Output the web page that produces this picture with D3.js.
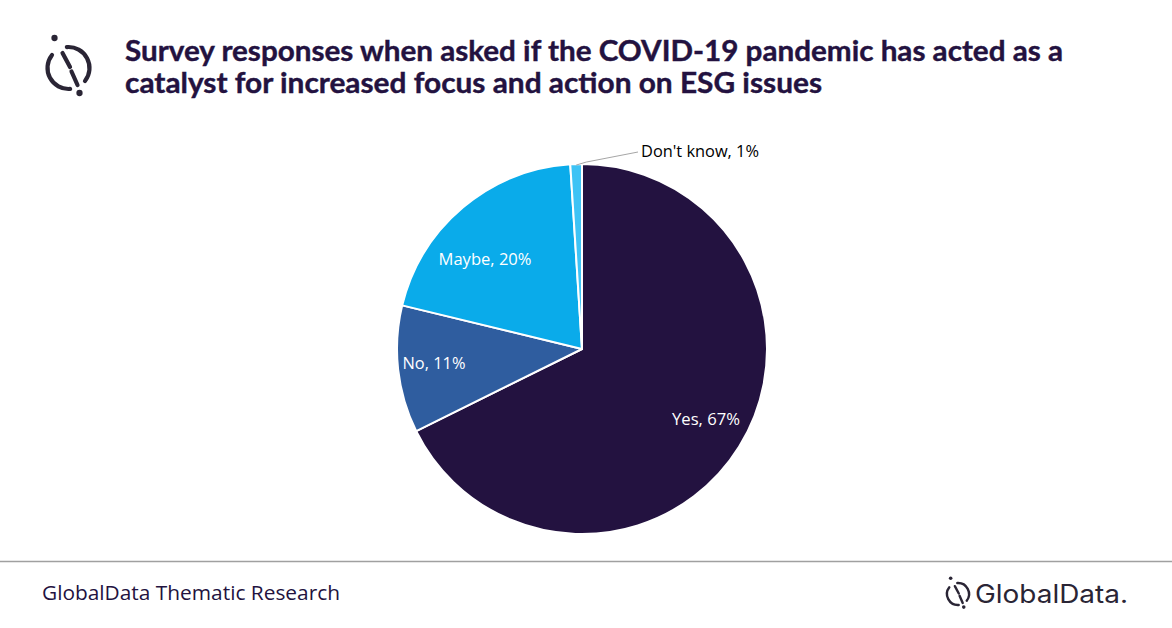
<!DOCTYPE html>
<html><head><meta charset="utf-8">
<script src="https://cdn.jsdelivr.net/npm/d3@7"></script>
<style>body{margin:0;background:#fff}svg{display:block}</style>
</head><body>
<svg id="c" width="1172" height="628"></svg>
<script>
const categories = ["Yes", "No", "Maybe", "Don't know"];
const values = [67, 11, 20, 1];
const colors = ["#231240", "#2f5d9f", "#0aabea", "#3ec3f5"];
const titleLines = ["Survey responses when asked if the COVID-19 pandemic has acted as a",
                    "catalyst for increased focus and action on ESG issues"];
const source = "GlobalData Thematic Research";

const svg = d3.select("#c");
const W = 1172, H = 628;
const dark = "#231240";

// icon drawer
function icon(g, cx, cy, r, sw, col) {
  const arc = d3.arc().innerRadius(r - sw/2).outerRadius(r + sw/2).cornerRadius(sw/2);
  const deg = Math.PI/180;
  g.append("path").attr("transform",`translate(${cx},${cy})`)
    .attr("d", arc({startAngle: -10*deg, endAngle: 134*deg})).attr("fill", col);
  g.append("path").attr("transform",`translate(${cx},${cy})`)
    .attr("d", arc({startAngle: 170*deg, endAngle: 314*deg})).attr("fill", col);
  const s = r/21;
  g.append("line").attr("x1", cx-6*s).attr("y1", cy-15*s).attr("x2", cx+1.5*s).attr("y2", cy-1*s)
    .attr("stroke", col).attr("stroke-width", sw).attr("stroke-linecap","round");
  g.append("line").attr("x1", cx+3*s).attr("y1", cy+3.5*s).attr("x2", cx+9*s).attr("y2", cy+17*s)
    .attr("stroke", col).attr("stroke-width", sw).attr("stroke-linecap","round");
  g.append("circle").attr("cx", cx-14*s).attr("cy", cy-30*s).attr("r", sw*0.75).attr("fill", col);
  g.append("circle").attr("cx", cx+11*s).attr("cy", cy+25*s).attr("r", sw*0.75).attr("fill", col);
}
icon(svg.append("g"), 68.5, 68, 21, 4.2, "#2a2535");

// title
const tl = [938, 697];
svg.append("g").selectAll("text").data(titleLines).join("text")
  .attr("x", 125).attr("y", (d,i) => 61 + i*32)
  .attr("textLength", (d,i) => tl[i]).attr("lengthAdjust","spacingAndGlyphs")
  .attr("font-family","Lato, 'Open Sans', sans-serif").attr("font-weight","bold")
  .attr("font-size", 28.5).attr("fill", dark)
  .attr("stroke", dark).attr("stroke-width", 0.4).text(d => d);

// pie
const cx = 582, cy = 349, R = 185;
const pie = d3.pie().sort(null).value(d => d.v);
const data = categories.map((c,i) => ({c, v: values[i], col: colors[i]}));
const arcs = pie(data);
const arc = d3.arc().innerRadius(0).outerRadius(R);
const g = svg.append("g").attr("transform", `translate(${cx},${cy})`);
g.selectAll("path").data(arcs).join("path")
  .attr("d", arc).attr("fill", d => d.data.col)
  .attr("stroke", "#fff").attr("stroke-width", 2).attr("stroke-linejoin","round");

// labels
const labelPos = {"Yes": [124, 70], "No": [-148, 14], "Maybe": [-97, -90]};
const lw = {"Yes": 68, "No": 63, "Maybe": 93};
g.selectAll("text.in").data(arcs.filter(d => labelPos[d.data.c])).join("text")
  .attr("class","in")
  .attr("x", d => labelPos[d.data.c][0]).attr("y", d => labelPos[d.data.c][1])
  .attr("text-anchor","middle").attr("dominant-baseline","central")
  .attr("textLength", d => lw[d.data.c]).attr("lengthAdjust","spacingAndGlyphs")
  .attr("font-family","'Open Sans', sans-serif").attr("font-size", 16).attr("fill", "#fff")
  .text(d => `${d.data.c}, ${d.data.v}%`);

// outside label for small slice
const dk = arcs[3];
const mid = (dk.startAngle + dk.endAngle)/2;
const p0 = [Math.sin(mid)*(R-1), -Math.cos(mid)*(R-1)];
g.append("polyline")
  .attr("points", [p0, [p0[0]+10, p0[1]-3], [56, -197]].map(p => p.join(",")).join(" "))
  .attr("fill","none").attr("stroke","#a6a6a6").attr("stroke-width",1);
g.append("text").attr("x", 59).attr("y", -198).attr("dominant-baseline","central")
  .attr("textLength", 118).attr("lengthAdjust","spacingAndGlyphs")
  .attr("font-family","'Open Sans', sans-serif").attr("font-size", 16).attr("fill","#000")
  .text(`${dk.data.c}, ${dk.data.v}%`);

// footer
svg.append("line").attr("x1",0).attr("x2",W).attr("y1",561.5).attr("y2",561.5)
  .attr("stroke","#a0a0a0").attr("stroke-width",1.5);
svg.append("text").attr("x", 42).attr("y", 600)
  .attr("textLength", 298).attr("lengthAdjust","spacingAndGlyphs")
  .attr("font-family","'Open Sans', sans-serif").attr("font-size", 20).attr("fill", dark)
  .text(source);

// bottom-right logo
icon(svg.append("g"), 958, 594, 11, 2.4, "#2a2535");
svg.append("text").attr("x", 975).attr("y", 603)
  .attr("textLength", 153).attr("lengthAdjust","spacingAndGlyphs")
  .attr("font-family","Inter, 'Open Sans', sans-serif").attr("font-size", 25).attr("fill", "#2a2535")
  .text("GlobalData.");
</script>
</body></html>
